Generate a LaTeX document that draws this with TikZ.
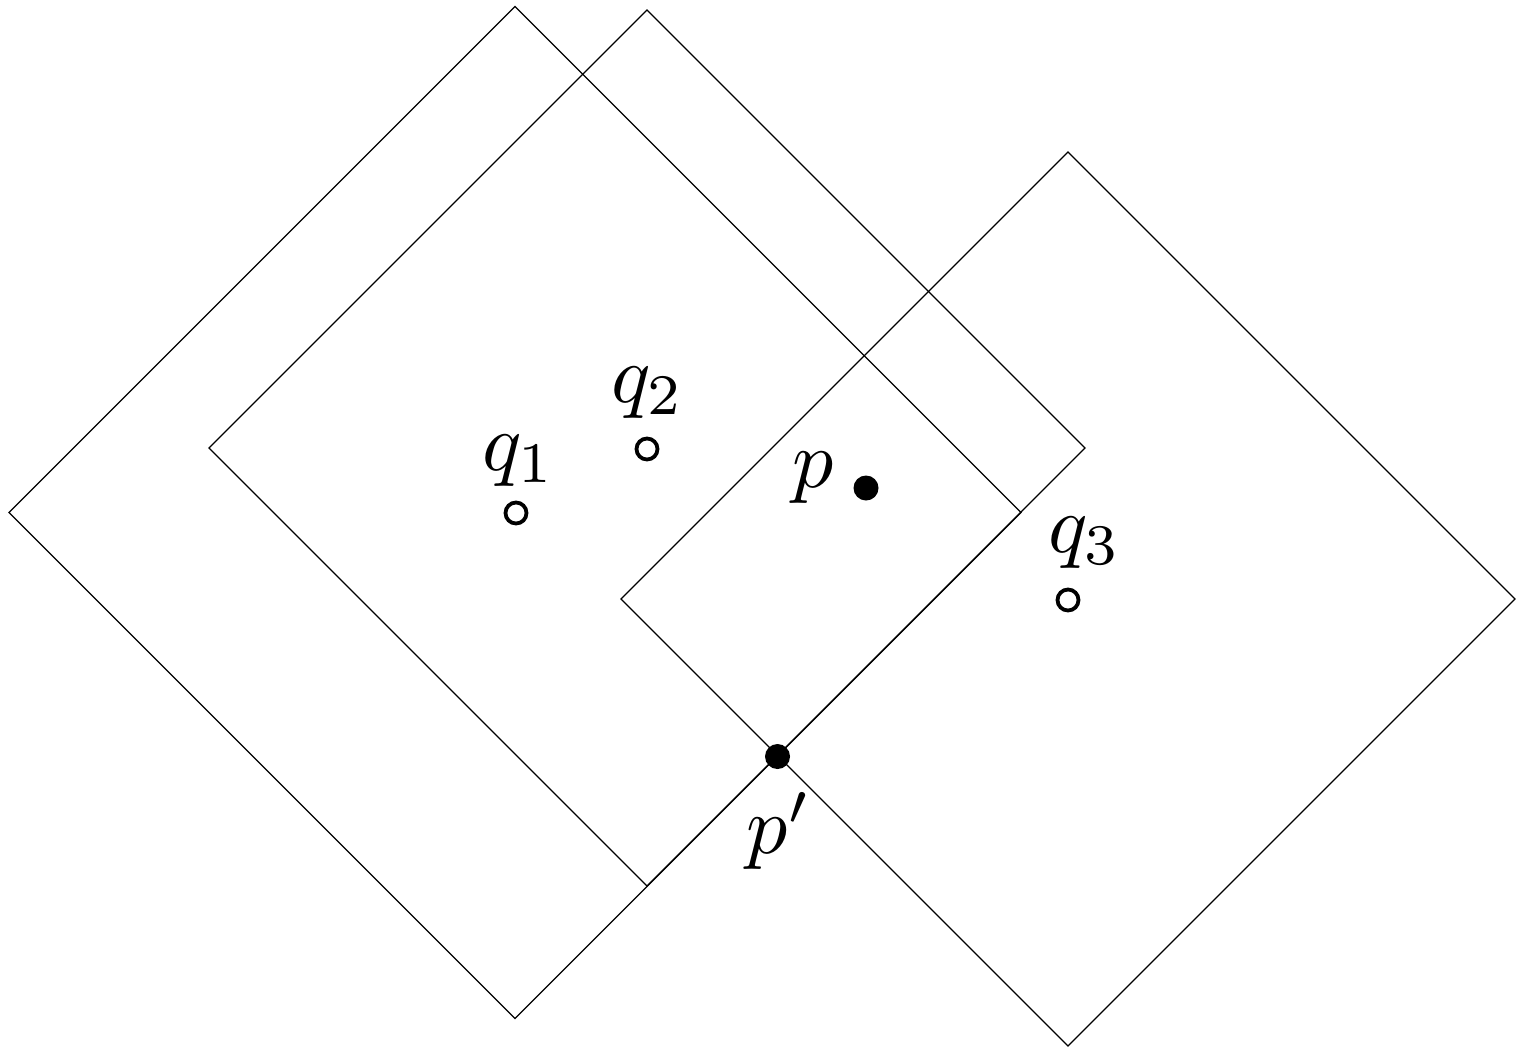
\documentclass[tikz,border=0pt]{standalone}
\usepackage{graphicx}
\begin{document}
\begin{tikzpicture}[x=1pt,y=-1pt,
  edge/.style={line width=1.3pt,black},
  opendot/.style={circle,draw=black,fill=white,line width=3.8pt,minimum size=21pt,inner sep=0pt},
  fulldot/.style={circle,fill=black,minimum size=25pt,inner sep=0pt},
  lbl/.style={inner sep=0pt}]
\useasboundingbox (0,0) rectangle (1518,1047);
% diamond 1
\coordinate (t1) at (515,6.5); \coordinate (l1) at (9,512.5);
\coordinate (b1) at (515,1018.5); \coordinate (r1) at (1021,512.5);
\draw[edge] (t1) -- (l1) -- (b1) -- (r1) -- cycle;
% diamond 2
\coordinate (t2) at (647,10); \coordinate (l2) at (209,448);
\coordinate (b2) at (647,886); \coordinate (r2) at (1085,448);
\draw[edge] (t2) -- (l2) -- (b2) -- (r2) -- cycle;
% diamond 3
\coordinate (t3) at (1068,152); \coordinate (l3) at (621,599);
\coordinate (b3) at (1068,1046); \coordinate (r3) at (1515,599);
\draw[edge] (t3) -- (l3) -- (b3) -- (r3) -- cycle;
% points
\node[opendot] (q1) at (516,513) {};
\node[opendot] (q2) at (647,449) {};
\node[opendot] (q3) at (1068,600) {};
\node[fulldot] (p) at (866,488) {};
\node[fulldot] (pp) at (777.5,756.5) {};
% labels
\node[lbl] (lq1) at (519,461) {\scalebox{8.2}{$q_1$}};
\node[lbl] (lq2) at (648,393) {\scalebox{8.2}{$q_2$}};
\node[lbl] (lq3) at (1085,543) {\scalebox{8.2}{$q_3$}};
\node[lbl] (lp) at (813,478) {\scalebox{8.2}{$p$}};
\node[lbl] (lpp) at (779,831) {\scalebox{8.2}{$p'$}};
\end{tikzpicture}
\end{document}
